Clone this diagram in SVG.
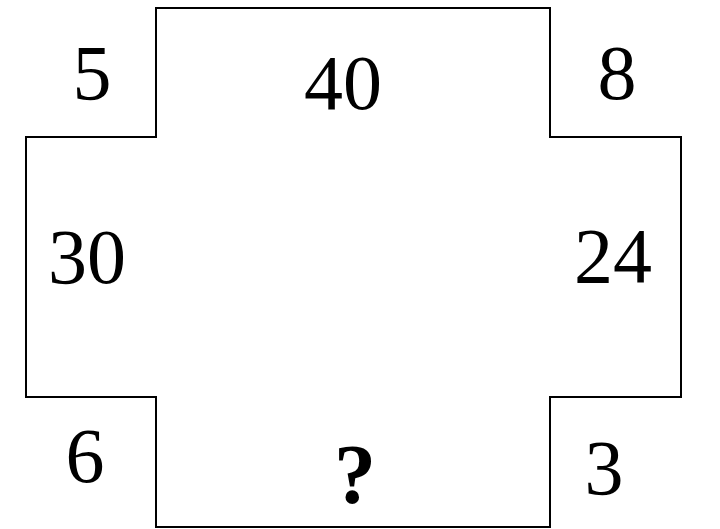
<svg xmlns="http://www.w3.org/2000/svg" width="720" height="529" viewBox="0 0 720 529">
<style>
.t{font-family:"Liberation Serif","Times New Roman",serif;font-size:78px;fill:#000;text-anchor:middle}
.b{font-weight:bold;font-size:84px}
</style>
<rect width="720" height="529" fill="#fff"/>
<g id="shape">
<polygon points="156,8 550,8 550,137 681,137 681,397 550,397 550,527 156,527 156,397 26,397 26,137 156,137" fill="none" stroke="#000" stroke-width="2"/>
</g>
<g id="labels">
<text class="t" x="92" y="99">5</text>
<text class="t" x="343" y="109">40</text>
<text class="t" x="617" y="99">8</text>
<text class="t" x="87" y="283">30</text>
<text class="t" x="613" y="282">24</text>
<text class="t" x="85" y="482">6</text>
<text class="t b" x="355" y="503">?</text>
<text class="t" x="604" y="494">3</text>
</g>
</svg>
